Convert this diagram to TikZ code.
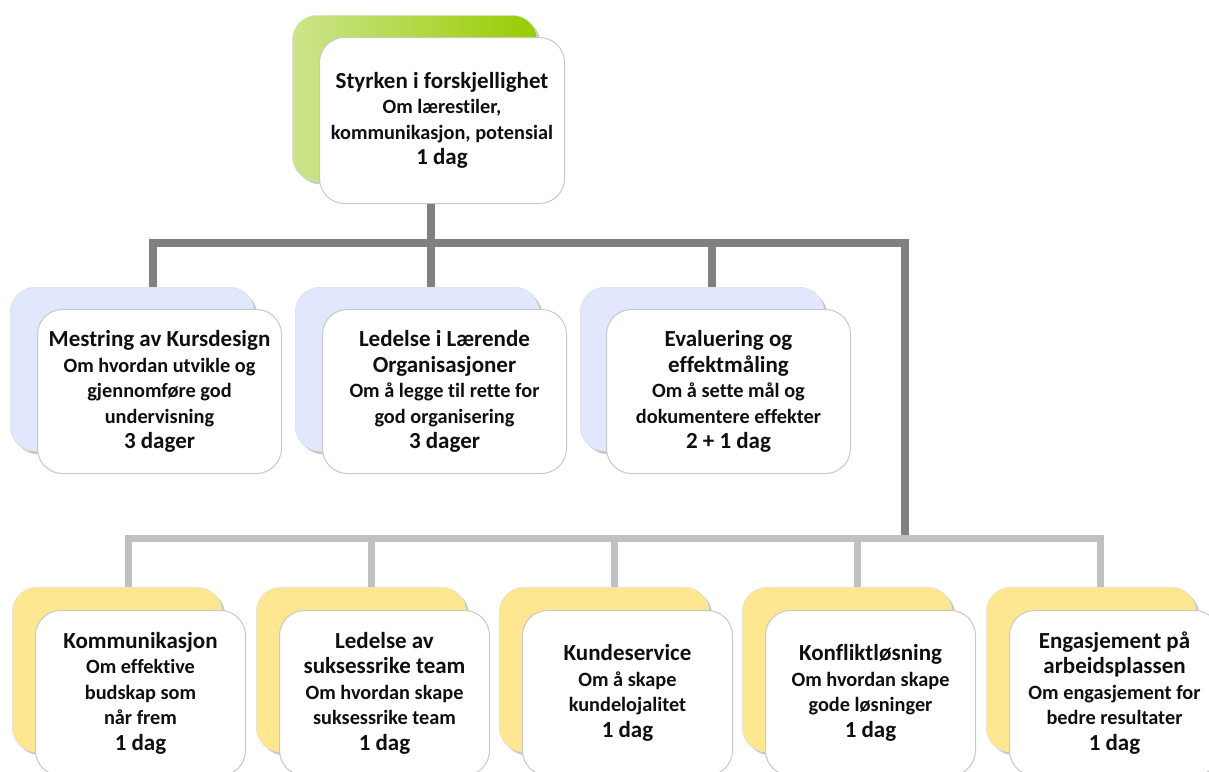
\documentclass[tikz,border=0pt]{standalone}
\usepackage{fontspec}
\setmainfont{Carlito}[Ligatures={NoCommon}]
\usetikzlibrary{shadows}
\definecolor{grA}{RGB}{204,228,140}
\definecolor{grB}{RGB}{153,204,0}
\definecolor{lav}{RGB}{225,231,252}
\definecolor{yel}{RGB}{255,230,145}
\definecolor{dkg}{RGB}{128,128,128}
\definecolor{ltg}{RGB}{192,192,192}
\definecolor{edgec}{RGB}{200,200,200}
\definecolor{txt}{RGB}{15,15,15}
\newcommand\ttl[1]{{\fontsize{23}{25.5}\selectfont #1}}
\begin{document}
\begin{tikzpicture}[x=1pt,y=-1pt,
  boxbase/.style={rounded corners=25pt, anchor=north west, inner sep=0pt},
  backbox/.style={boxbase, draw=edgec!60, line width=0.5pt,
    drop shadow={shadow xshift=3pt, shadow yshift=-3pt, opacity=0.22, fill=black}},
  frontbox/.style={boxbase, fill=white, draw=edgec, line width=1pt,
    align=center, text=txt, font=\bfseries\fontsize{20.3}{25.5}\selectfont},
  topsize/.style={minimum width=245pt, minimum height=166pt},
  midsize/.style={minimum width=244pt, minimum height=164pt},
  botsize/.style={minimum width=210pt, minimum height=165pt},
  greenback/.style={backbox, topsize, left color=grA, right color=grB},
  lavback/.style={backbox, midsize, fill=lav},
  yelback/.style={backbox, botsize, fill=yel},
  darkline/.style={draw=dkg, line width=8pt, line join=miter},
  lightline/.style={draw=ltg, line width=7pt, line join=miter}
]
\useasboundingbox (0,0) rectangle (1209,771);
\clip (0,0) rectangle (1209,771);

% ---- connector coordinates ----
\coordinate (dtop) at (431,242.5);
\coordinate (d1) at (152.5,242.5);
\coordinate (d2) at (431,242.5);
\coordinate (d3) at (712,242.5);
\coordinate (dr) at (904.5,242.5);
\coordinate (l1) at (128.5,538.5);
\coordinate (l2) at (371,538.5);
\coordinate (l3) at (614,538.5);
\coordinate (l4) at (857,538.5);
\coordinate (l5) at (1100.5,538.5);

% ---- top ----
\node[greenback] (tb) at (292,15) {};
\node[frontbox, topsize] (tf) at (319,37)
  {\ttl{Styrken i forskjellighet}\\Om lærestiler,\\kommunikasjon, potensial\\\ttl{1 dag}};

% ---- middle row ----
\node[lavback] (m1b) at (10,287) {};
\node[lavback] (m2b) at (295,287) {};
\node[lavback] (m3b) at (580,287) {};

% ---- bottom row ----
\node[yelback] (b1b) at (12,587) {};
\node[yelback] (b2b) at (256,587) {};
\node[yelback] (b3b) at (499,587) {};
\node[yelback] (b4b) at (742,587) {};
\node[yelback] (b5b) at (986,587) {};

% ---- connectors ----
\draw[darkline] (tf.south -| dtop) -- (dtop);
\draw[darkline] (m1b.north -| d1) -- (d1) -- (dr) -- (dr |- l5);
\draw[darkline] (d2) -- (m2b.north -| d2);
\draw[darkline] (d3) -- (m3b.north -| d3);
\draw[lightline] (b1b.north -| l1) -- (l1) -- (l5) -- (b5b.north -| l5);
\draw[lightline] (l2) -- (b2b.north -| l2);
\draw[lightline] (l3) -- (b3b.north -| l3);
\draw[lightline] (l4) -- (b4b.north -| l4);

% ---- front boxes middle ----
\node[frontbox, midsize] (m1f) at (37,309)
  {\ttl{Mestring av Kursdesign}\\Om hvordan utvikle og\\gjennomføre god\\undervisning\\\ttl{3 dager}};
\node[frontbox, midsize] (m2f) at (322,309)
  {\ttl{Ledelse i Lærende}\\\ttl{Organisasjoner}\\Om å legge til rette for\\god organisering\\\ttl{3 dager}};
\node[frontbox, midsize] (m3f) at (606,309)
  {\ttl{Evaluering og}\\\ttl{effektmåling}\\Om å sette mål og\\dokumentere effekter\\\ttl{2 + 1 dag}};

% ---- front boxes bottom ----
\node[frontbox, botsize] (b1f) at (35,610)
  {\ttl{Kommunikasjon}\\Om effektive\\budskap som\\når frem\\\ttl{1 dag}};
\node[frontbox, botsize] (b2f) at (279,610)
  {\ttl{Ledelse av}\\\ttl{suksessrike team}\\Om hvordan skape\\suksessrike team\\\ttl{1 dag}};
\node[frontbox, botsize] (b3f) at (522,610)
  {\ttl{Kundeservice}\\Om å skape\\kundelojalitet\\\ttl{1 dag}};
\node[frontbox, botsize] (b4f) at (765,610)
  {\ttl{Konfliktløsning}\\Om hvordan skape\\gode løsninger\\\ttl{1 dag}};
\node[frontbox, botsize] (b5f) at (1009,610)
  {\ttl{Engasjement på}\\\ttl{arbeidsplassen}\\Om engasjement for\\bedre resultater\\\ttl{1 dag}};
\end{tikzpicture}
\end{document}
